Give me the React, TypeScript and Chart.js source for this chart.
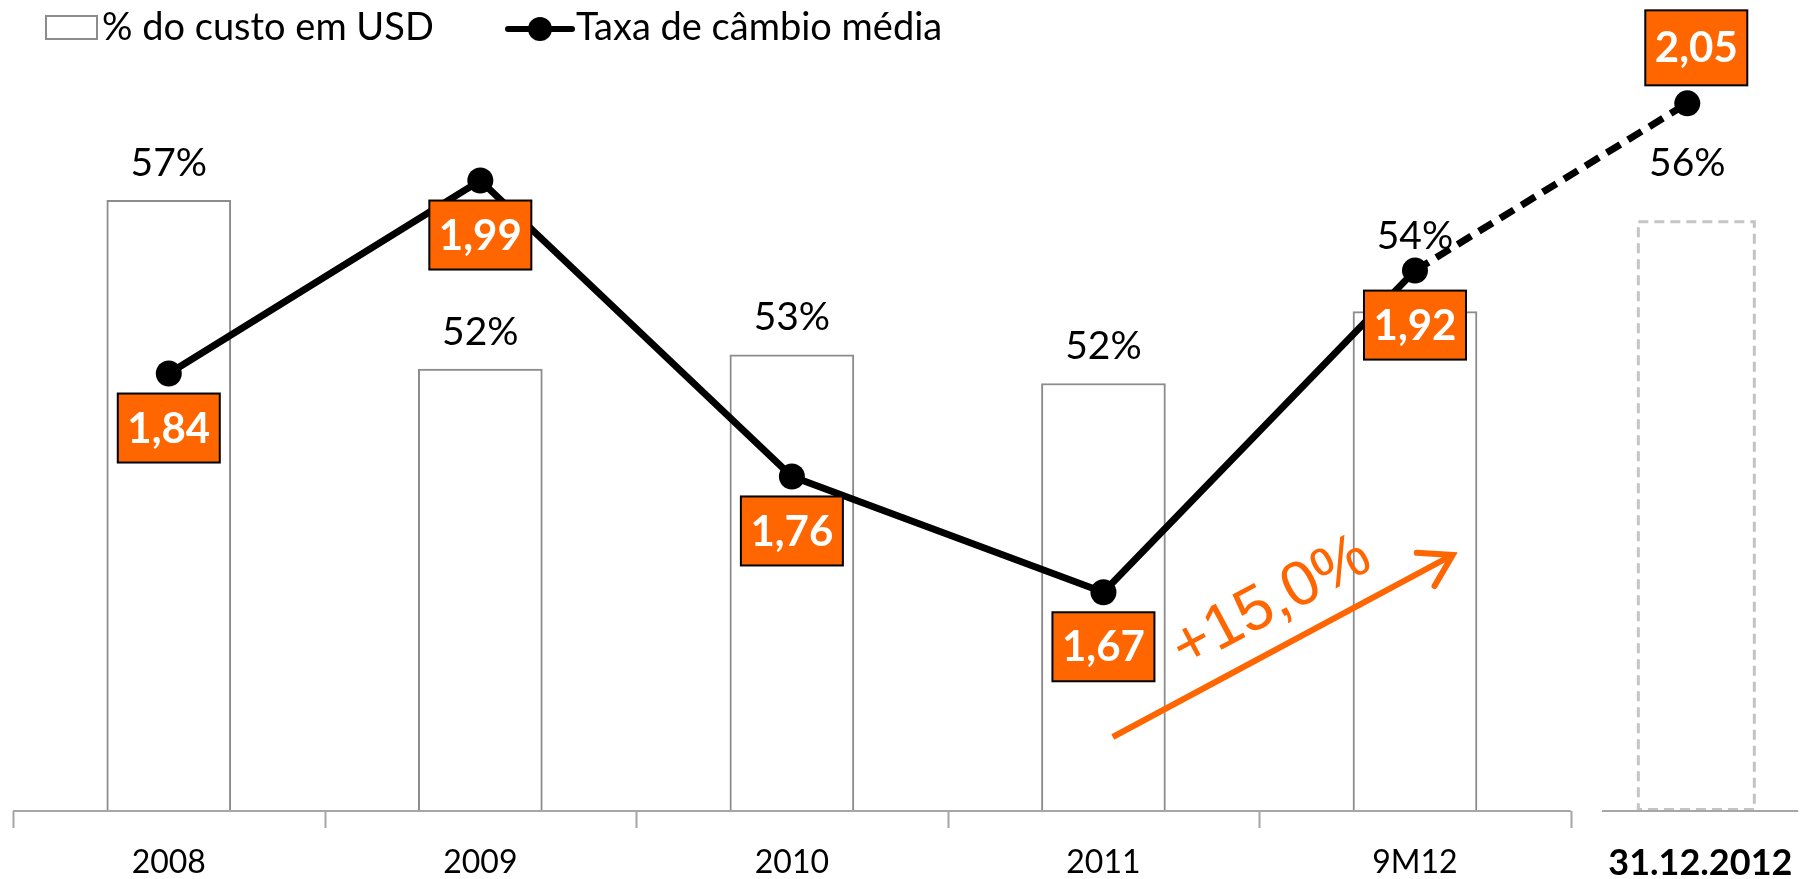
import React, { useEffect, useRef } from "react";
import { Chart, registerables } from "chart.js";

Chart.register(...registerables);

// ---------- data ----------
const categories = ["2008", "2009", "2010", "2011", "9M12", "31.12.2012"];
const barX = [0, 1, 2, 3, 4, 4.903];
const lineX = [0, 1, 2, 3, 4, 4.874];
const costShareUSD = [57.0, 52.3, 52.7, 51.9, 53.9, 56.4];
const costShareLabels = ["57%", "52%", "53%", "52%", "54%", "56%"];
const avgExchangeRate = [1.84, 1.99, 1.76, 1.67, 1.92, 2.05];
const rateLabels = ["1,84", "1,99", "1,76", "1,67", "1,92", "2,05"];
const legendLabels = ["% do custo em USD", "Taxa de câmbio média"];
const growthLabel = "+15,0%";
const growthArrowFrom = { x: 3.03, y: 1.5575 };
const growthArrowTo = { x: 4.121, y: 1.699 };
const growthTextAt = { x: 3.54, y: 1.6616 };

const ORANGE = "#FF6600";
const FONT = "Lato, 'Noto Sans', sans-serif";

const overlayPlugin = {
  id: "overlay",
  afterDatasetsDraw(chart: any) {
    const ctx = chart.ctx;
    const bottom = chart.chartArea.bottom;
    // dashed outline of projected bar
    const projMeta = chart.getDatasetMeta(1);
    projMeta.data.forEach((el: any) => {
      const p = el.getProps(["x", "y", "base", "width"], true);
      const b = Math.min(p.base, bottom) - 1.5;
      ctx.save();
      ctx.strokeStyle = "#c4c4c4";
      ctx.lineWidth = 3;
      ctx.setLineDash([10, 6]);
      ctx.strokeRect(p.x - p.width / 2, p.y, p.width, b - p.y);
      ctx.restore();
    });
  },
  afterDraw(chart: any) {
    const ctx = chart.ctx;
    const xs = chart.scales.x;
    const y2 = chart.scales.y2;
    const area = chart.chartArea;
    const base = area.bottom;

    ctx.save();
    // axis line segments
    ctx.strokeStyle = "#a6a6a6";
    ctx.lineWidth = 2;
    ctx.beginPath();
    ctx.moveTo(xs.getPixelForValue(-0.5), base);
    ctx.lineTo(xs.getPixelForValue(4.5), base);
    for (let t = -0.5; t <= 4.5; t += 1) {
      const px = Math.round(xs.getPixelForValue(t)) + 0.5;
      ctx.moveTo(px, base);
      ctx.lineTo(px, base + 17);
    }
    ctx.moveTo(xs.getPixelForValue(4.6), base);
    ctx.lineTo(xs.getPixelForValue(5.23), base);
    ctx.stroke();

    // category labels
    ctx.fillStyle = "#000";
    ctx.textAlign = "center";
    ctx.textBaseline = "middle";
    categories.forEach((c, i) => {
      const last = i === categories.length - 1;
      ctx.font = last ? `bold 36px ${FONT}` : `32px ${FONT}`;
      ctx.fillText(c, xs.getPixelForValue(barX[i]) + (last ? 4 : 0), base + 52);
    });

    // percentage labels above bars
    ctx.font = `39px ${FONT}`;
    const barEls = [...chart.getDatasetMeta(0).data, ...chart.getDatasetMeta(1).data];
    barEls.forEach((el: any, i: number) => {
      const p = el.getProps(["x", "y"], true);
      let off = 37;
      let dx = 0;
      if (i === 4) off = 75;
      if (i === 5) { off = 58; dx = -9; }
      ctx.fillText(costShareLabels[i], p.x + dx, p.y - off);
    });

    // exchange-rate boxes
    const lineMeta = chart.getDatasetMeta(2);
    lineMeta.data.forEach((el: any, i: number) => {
      const p = el.getProps(["x", "y"], true);
      const w = 102;
      const hh = i === 5 ? 75 : 69;
      let cx = p.x, top = p.y + 20;
      if (i === 5) { cx = p.x + 9; top = p.y - 18 - hh; }
      ctx.fillStyle = ORANGE;
      ctx.fillRect(cx - w / 2, top, w, hh);
      ctx.strokeStyle = "#000";
      ctx.lineWidth = 2;
      ctx.setLineDash([]);
      ctx.strokeRect(cx - w / 2, top, w, hh);
      ctx.fillStyle = "#fff";
      ctx.font = `bold 42px ${FONT}`;
      ctx.fillText(rateLabels[i], cx, top + hh / 2 + 1);
    });

    // growth arrow
    const ax0 = xs.getPixelForValue(growthArrowFrom.x);
    const ay0 = y2.getPixelForValue(growthArrowFrom.y);
    const ax1 = xs.getPixelForValue(growthArrowTo.x);
    const ay1 = y2.getPixelForValue(growthArrowTo.y);
    const ang = Math.atan2(ay1 - ay0, ax1 - ax0);
    ctx.strokeStyle = ORANGE;
    ctx.lineWidth = 6;
    ctx.lineCap = "butt";
    ctx.beginPath();
    ctx.moveTo(ax0, ay0);
    ctx.lineTo(ax1, ay1);
    ctx.stroke();
    const hl = 36;
    ctx.lineCap = "round";
    ctx.beginPath();
    ctx.moveTo(ax1 - hl * Math.cos(ang - 0.55), ay1 - hl * Math.sin(ang - 0.55));
    ctx.lineTo(ax1, ay1);
    ctx.lineTo(ax1 - hl * Math.cos(ang + 0.55), ay1 - hl * Math.sin(ang + 0.55));
    ctx.stroke();

    // growth text
    ctx.save();
    ctx.translate(xs.getPixelForValue(growthTextAt.x), y2.getPixelForValue(growthTextAt.y));
    ctx.rotate(ang);
    ctx.fillStyle = ORANGE;
    ctx.font = `63px 'Liberation Sans', Arial, sans-serif`;
    ctx.textAlign = "center";
    ctx.textBaseline = "middle";
    ctx.fillText(growthLabel, 0, 0);
    ctx.restore();

    // legend
    ctx.textAlign = "left";
    ctx.textBaseline = "middle";
    ctx.fillStyle = "#fff";
    ctx.fillRect(46, 16, 51, 23);
    ctx.strokeStyle = "#8c8c8c";
    ctx.lineWidth = 2;
    ctx.strokeRect(46, 16, 51, 23);
    ctx.fillStyle = "#000";
    ctx.font = `38px ${FONT}`;
    ctx.fillText(legendLabels[0], 102, 28);

    ctx.strokeStyle = "#000";
    ctx.lineWidth = 6;
    ctx.lineCap = "round";
    ctx.beginPath();
    ctx.moveTo(508, 29);
    ctx.lineTo(572, 29);
    ctx.stroke();
    ctx.beginPath();
    ctx.arc(540, 29, 12, 0, Math.PI * 2);
    ctx.fill();
    ctx.fillText(legendLabels[1], 576, 28);
    ctx.restore();
  },
};

export default function App() {
  const ref = useRef<HTMLCanvasElement | null>(null);

  useEffect(() => {
    if (!ref.current) return;
    const n = categories.length;
    const chart = new Chart(ref.current, {
      data: {
        datasets: [
          {
            type: "bar",
            label: legendLabels[0],
            data: costShareUSD.slice(0, n - 1).map((v, i) => ({ x: barX[i], y: v })),
            backgroundColor: "#ffffff",
            borderColor: "#8c8c8c",
            borderWidth: 2,
            barThickness: 124,
            grouped: false,
            yAxisID: "y",
            order: 2,
          } as any,
          {
            type: "bar",
            label: "projected",
            data: [{ x: barX[n - 1], y: costShareUSD[n - 1] }],
            backgroundColor: "#ffffff",
            borderWidth: 0,
            barThickness: 116,
            grouped: false,
            yAxisID: "y",
            order: 2,
          } as any,
          {
            type: "line",
            label: legendLabels[1],
            data: avgExchangeRate.map((v, i) => ({ x: lineX[i], y: v })),
            borderColor: "#000",
            backgroundColor: "#000",
            borderWidth: 7,
            pointRadius: 13,
            pointBackgroundColor: "#000",
            pointBorderWidth: 0,
            tension: 0,
            yAxisID: "y2",
            order: 0,
            segment: {
              borderDash: (c: any) => (c.p1DataIndex === n - 1 ? [16, 9] : undefined),
            },
          } as any,
        ],
      },
      options: {
        animation: false,
        responsive: true,
        maintainAspectRatio: false,
        layout: { padding: { left: 12, right: 12, top: 39, bottom: 68 } },
        plugins: { legend: { display: false }, tooltip: { enabled: false } },
        scales: {
          x: { type: "linear", min: -0.5, max: 5.239, offset: false, display: false, grid: { offset: false } },
          y: { type: "linear", min: 40, max: 61.49, display: false },
          y2: { type: "linear", min: 1.5, max: 2.1, display: false, position: "right" },
        },
      } as any,
      plugins: [overlayPlugin],
    });
    return () => chart.destroy();
  }, []);

  return (
    <div style={{ position: "absolute", left: 0, top: 0, width: 1814, height: 879 }}>
      <canvas ref={ref} />
    </div>
  );
}
